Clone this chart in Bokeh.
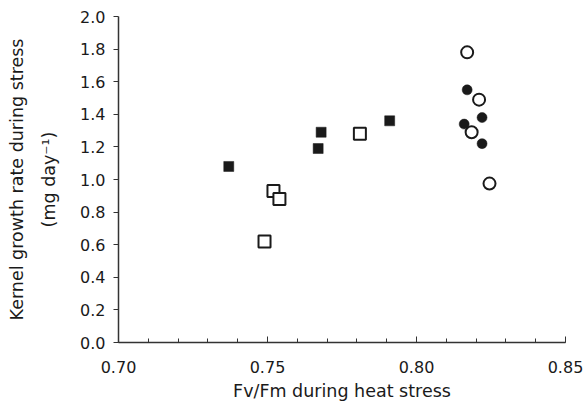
from bokeh.plotting import figure
from bokeh.models import LinearAxis, FixedTicker, NumeralTickFormatter, Range1d
from bokeh.embed import file_html
from bokeh.resources import INLINE

# Data
filled_sq_x = [0.737, 0.767, 0.768, 0.791]
filled_sq_y = [1.08, 1.19, 1.29, 1.36]
open_sq_x = [0.749, 0.752, 0.754, 0.781]
open_sq_y = [0.62, 0.93, 0.88, 1.28]
open_ci_x = [0.817, 0.821, 0.8185, 0.8245]
open_ci_y = [1.78, 1.49, 1.29, 0.975]
filled_ci_x = [0.817, 0.822, 0.816, 0.822]
filled_ci_y = [1.55, 1.38, 1.34, 1.22]

x_ticks = [0.70, 0.75, 0.80, 0.85]
x_minor = [0.70 + 0.01 * i for i in range(16)]
y_ticks = [0.0, 0.2, 0.4, 0.6, 0.8, 1.0, 1.2, 1.4, 1.6, 1.8, 2.0]

FONT = "DejaVu Sans"
INK = "#1a1a1a"

p = figure(width=583, height=405, output_backend="svg", toolbar_location=None,
           x_range=Range1d(0.70, 0.85), y_range=Range1d(0.0, 2.0),
           min_border_left=118, min_border_right=18, min_border_top=16, min_border_bottom=63,
           x_axis_location=None, y_axis_location=None)
p.outline_line_color = None
p.xgrid.visible = False
p.ygrid.visible = False

# bottom axis
xa = LinearAxis(ticker=FixedTicker(ticks=x_ticks, minor_ticks=x_minor),
                formatter=NumeralTickFormatter(format="0.00"))
xa.axis_label = "Fv/Fm during heat stress"
xa.axis_label_text_font = FONT
xa.axis_label_text_font_size = "17.5px"
xa.axis_label_text_font_style = "normal"
xa.axis_label_text_color = INK
xa.axis_label_standoff = 5
xa.major_label_text_font = FONT
xa.major_label_text_font_size = "16px"
xa.major_label_text_color = INK
xa.major_label_standoff = 18
xa.major_tick_in = 6
xa.major_tick_out = 0
xa.minor_tick_in = 4
xa.minor_tick_out = 0
xa.axis_line_width = 1.5
xa.axis_line_color = "#333333"
xa.major_tick_line_color = "#333333"
xa.minor_tick_line_color = "#333333"
p.add_layout(xa, "below")

# left axis with ticks and second label line
ya = LinearAxis(ticker=FixedTicker(ticks=y_ticks, minor_ticks=[]),
                formatter=NumeralTickFormatter(format="0.0"))
ya.axis_label = "(mg day\u207b\u00b9)"
ya.axis_label_text_font = FONT
ya.axis_label_text_font_size = "17.5px"
ya.axis_label_text_font_style = "normal"
ya.axis_label_text_color = INK
ya.axis_label_standoff = 18
ya.major_label_text_font = FONT
ya.major_label_text_font_size = "16px"
ya.major_label_text_color = INK
ya.major_label_standoff = 8
ya.major_tick_in = 0
ya.major_tick_out = 5
ya.axis_line_width = 1.5
ya.axis_line_color = "#333333"
ya.major_tick_line_color = "#333333"
p.add_layout(ya, "left")

# extra axis only carrying first label line
ya2 = LinearAxis(ticker=FixedTicker(ticks=[]))
ya2.axis_label = "Kernel growth rate during stress"
ya2.axis_label_text_font = FONT
ya2.axis_label_text_font_size = "17.5px"
ya2.axis_label_text_font_style = "normal"
ya2.axis_label_text_color = INK
ya2.axis_label_standoff = 10
ya2.axis_line_color = None
ya2.major_tick_line_color = None
ya2.minor_tick_line_color = None
ya2.major_label_text_font_size = "0px"
p.add_layout(ya2, "left")

p.scatter(open_sq_x, open_sq_y, marker="square", size=12, fill_color="white",
          line_color=INK, line_width=2)
p.scatter(filled_sq_x, filled_sq_y, marker="square", size=10, fill_color=INK,
          line_color=INK, line_width=0.5)
p.scatter(open_ci_x, open_ci_y, marker="circle", size=12, fill_color="white",
          line_color=INK, line_width=2)
p.scatter(filled_ci_x, filled_ci_y, marker="circle", size=10, fill_color=INK,
          line_color=INK, line_width=0.5)

open("out.html", "w").write(file_html(p, INLINE))
